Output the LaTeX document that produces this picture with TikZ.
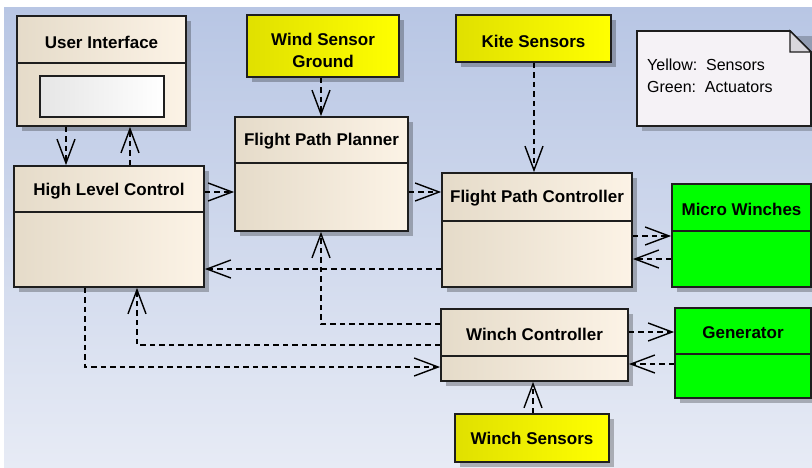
\documentclass[tikz,border=0pt]{standalone}
\usepackage{fontspec}
\setmainfont{Liberation Sans}
\usetikzlibrary{arrows.meta,shadows}
\definecolor{bgtop}{HTML}{B8C6E4}
\definecolor{bgbot}{HTML}{E7EBF5}
\definecolor{clsL}{HTML}{E5DBC9}
\definecolor{clsR}{HTML}{FCF3E6}
\definecolor{yelL}{HTML}{E0E000}
\definecolor{yelR}{HTML}{FFFF00}
\definecolor{grn}{HTML}{00FF00}
\definecolor{notefill}{HTML}{F5F2F6}
\definecolor{foldfill}{HTML}{D9D7DC}
\definecolor{edge}{HTML}{1E1E1E}
\begin{document}
\begin{tikzpicture}[x=1pt,y=-1pt,
 box/.style={draw=edge, line width=1.8pt, inner sep=0pt,
   drop shadow={shadow xshift=5pt, shadow yshift=-5pt, fill=black, opacity=0.26}},
 clsbox/.style={box, left color=clsL, right color=clsR},
 sensbox/.style={box, left color=yelL, right color=yelR},
 actbox/.style={box, fill=grn},
 ttl/.style={font=\fontsize{17}{21}\selectfont\bfseries, align=center, inner sep=0pt},
 notetxt/.style={font=\fontsize{16}{22}\selectfont, align=left, inner sep=0pt, anchor=north west},
 divider/.style={draw=edge, line width=1.5pt},
 dep/.style={line width=1.3pt, dash pattern=on 5.5pt off 4pt,
   -{Straight Barb[length=24pt,width=18pt,line width=1.4pt]}}
]
\useasboundingbox (0,0) rectangle (812,467);
\fill[white] (0,0) rectangle (812,467);
\shade[top color=bgtop, bottom color=bgbot] (4,7) rectangle (812,467);

% ---- boxes ----
\node[clsbox, minimum width=169pt, minimum height=110pt] (ui) at (101.5,71) {};
\node[clsbox, minimum width=173pt, minimum height=114pt] (fpp) at (321.5,174) {};
\node[clsbox, minimum width=190pt, minimum height=114pt] (fpc) at (537,230) {};
\node[clsbox, minimum width=190pt, minimum height=121pt] (hlc) at (109,226.5) {};
\node[clsbox, minimum width=187pt, minimum height=72pt] (wc) at (534.5,345) {};
\node[sensbox, minimum width=152pt, minimum height=62pt] (wsg) at (323,46) {};
\node[sensbox, minimum width=155pt, minimum height=47pt] (ks) at (533.5,38.5) {};
\node[sensbox, minimum width=154pt, minimum height=48pt] (ws) at (532,438) {};
\node[actbox, minimum width=139pt, minimum height=103pt] (mw) at (741.5,235.5) {};
\node[actbox, minimum width=136pt, minimum height=90pt] (gen) at (743,353) {};

% dividers
\draw[divider] (ui.west |- 0,63) -- (ui.east |- 0,63);
\draw[divider] (fpp.west |- 0,163) -- (fpp.east |- 0,163);
\draw[divider] (fpc.west |- 0,221) -- (fpc.east |- 0,221);
\draw[divider] (hlc.west |- 0,212) -- (hlc.east |- 0,212);
\draw[divider] (wc.west |- 0,356) -- (wc.east |- 0,356);
\draw[divider] (mw.west |- 0,231) -- (mw.east |- 0,231);
\draw[divider] (gen.west |- 0,354) -- (gen.east |- 0,354);

% UI inner widget
\node[draw=edge, line width=1.5pt, left color=gray!20, right color=white,
      minimum width=124pt, minimum height=41pt, inner sep=0pt] (uiw) at (102,96.5) {};

% titles
\node[ttl] (uiT) at (101.5,42) {User Interface};
\node[ttl] (fppT) at (321.5,141.5) {Flight Path Planner};
\node[ttl] (fpcT) at (537,198.5) {Flight Path Controller};
\node[ttl] (hlcT) at (109,191.5) {High Level Control};
\node[ttl] (wcT) at (534.5,334) {Winch Controller};
\node[ttl] (wsgT) at (323,50) {Wind Sensor\\[1pt]Ground};
\node[ttl] (ksT) at (533.5,41) {Kite Sensors};
\node[ttl] (wsT) at (532,438.5) {Winch Sensors};
\node[ttl] (mwT) at (741.5,209.5) {Micro Winches};
\node[ttl] (genT) at (743,333) {Generator};

% note
\fill[black, opacity=0.22] (642,36) -- (816,36) -- (816,131) -- (642,131) -- cycle;
\draw[draw=edge, line width=1.8pt, fill=notefill]
  (637,31) -- (790,31) -- (811,52) -- (811,126) -- (637,126) -- cycle;
\draw[draw=edge, line width=1.4pt, fill=foldfill] (790,31) -- (790,52) -- (811,52) -- cycle;
\node[notetxt] (note) at (647,59) {Yellow:\ \ Sensors\\Green:\ \ Actuators};

% ---- connectors ----
\draw[dep] (ui.south -| 66,0) -- (hlc.north -| 66,0);
\draw[dep] (hlc.north -| 130,0) -- (ui.south -| 130,0);
\draw[dep] (wsg.south -| 321,0) -- (fpp.north -| 321,0);
\draw[dep] (hlc.east |- 0,192) -- (fpp.west |- 0,192);
\draw[dep] (fpp.east |- 0,192) -- (fpc.west |- 0,192);
\draw[dep] (ks.south -| 534,0) -- (fpc.north -| 534,0);
\draw[dep] (fpc.east |- 0,236) -- (mw.west |- 0,236);
\draw[dep] (mw.west |- 0,259) -- (fpc.east |- 0,259);
\draw[dep] (fpc.west |- 0,269) -- (hlc.east |- 0,269);
\draw[dep] (wc.west |- 0,324) -| (fpp.south -| 321,0);
\draw[dep] (wc.west |- 0,345) -| (hlc.south -| 137,0);
\draw[dep] (hlc.south -| 85,0) |- (wc.west |- 0,367);
\draw[dep] (wc.east |- 0,332) -- (gen.west |- 0,332);
\draw[dep] (gen.west |- 0,364) -- (wc.east |- 0,364);
\draw[dep] (ws.north -| 533,0) -- (wc.south -| 533,0);
\end{tikzpicture}
\end{document}
